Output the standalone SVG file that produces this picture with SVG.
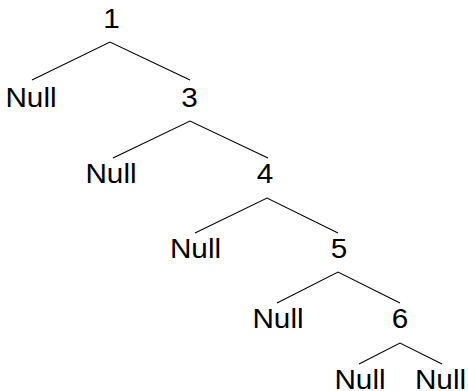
<svg xmlns="http://www.w3.org/2000/svg" width="468" height="391" viewBox="0 0 468 391">
<style>
.lbl{font-family:"Liberation Sans",Arial,Helvetica,sans-serif;font-size:27px;fill:#000;text-anchor:middle}
.edge{stroke:#000;stroke-width:1.1;fill:none}
</style>
<rect width="468" height="391" fill="#fff"/>
<g id="connectors">
<polyline class="edge" points="32,80 110,42 190,80"/>
<polyline class="edge" points="113,158 190,121 268,158"/>
<polyline class="edge" points="195,233 267,198 338,233"/>
<polyline class="edge" points="277,303 338,272 400,303"/>
<polyline class="edge" points="359,364 400,343 442,364"/>
</g>
<g id="n1"><text class="lbl" transform="translate(111.5,28) scale(1.1,1)">1</text></g>
<g id="null1"><text class="lbl" transform="translate(31,107) scale(1.1,1)">Null</text></g>
<g id="n3"><text class="lbl" transform="translate(189.5,107) scale(1.1,1)">3</text></g>
<g id="null2"><text class="lbl" transform="translate(111,183) scale(1.1,1)">Null</text></g>
<g id="n4"><text class="lbl" transform="translate(265,183) scale(1.1,1)">4</text></g>
<g id="null3"><text class="lbl" transform="translate(195.5,258) scale(1.1,1)">Null</text></g>
<g id="n5"><text class="lbl" transform="translate(339,258) scale(1.1,1)">5</text></g>
<g id="null4"><text class="lbl" transform="translate(278,328) scale(1.1,1)">Null</text></g>
<g id="n6"><text class="lbl" transform="translate(400,328) scale(1.1,1)">6</text></g>
<g id="null5"><text class="lbl" transform="translate(360,389) scale(1.1,1)">Null</text></g>
<g id="null6"><text class="lbl" transform="translate(440.5,389) scale(1.1,1)">Null</text></g>
</svg>
